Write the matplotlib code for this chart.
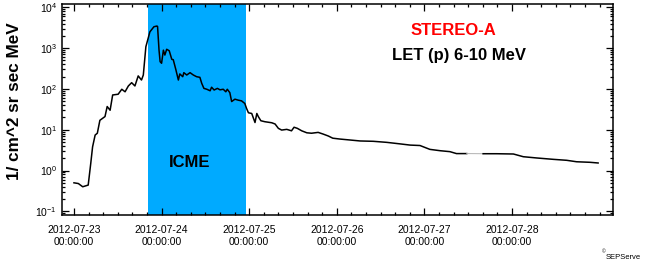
import numpy as np
import matplotlib
matplotlib.use("Agg")
import matplotlib.pyplot as plt
import matplotlib.dates as mdates
from matplotlib.ticker import LogLocator, NullFormatter

plt.rcParams['font.family'] = ['Liberation Sans', 'DejaVu Sans']
plt.rcParams['mathtext.fontset'] = 'custom'
plt.rcParams['mathtext.rm'] = 'Liberation Sans'
plt.rcParams['mathtext.it'] = 'Liberation Sans'

# STEREO-A LET proton flux, 6-10 MeV (hours after 2012-07-23 00:00)
START = np.datetime64('2012-07-23T00:00')
hours = [0, 1.2, 2.4, 3.9, 4.6, 5.1, 5.8, 6.4, 7.1, 8.5, 9.1, 9.9, 10.6, 12.1,
         13.1, 14.0, 14.9, 15.8, 16.7, 17.6, 18.5, 19.0, 19.7, 20.8, 21.9,
         22.7, 22.9, 23.3, 23.6, 24.0, 24.5, 24.9, 25.4, 26.1, 26.8, 27.2,
         27.9, 28.6, 29.0, 29.8, 30.1, 30.9, 31.8, 32.7, 33.6, 34.5, 35.0,
         35.6, 36.4, 37.3, 37.7, 38.4, 39.3, 40.0, 40.9, 41.6, 42.0, 42.7,
         43.2, 44.1, 45.0, 45.9, 46.8, 47.3, 47.8, 48.7, 49.6, 50.1, 50.5,
         51.2, 52.3, 54.2, 55.1, 56.0, 56.9, 58.3, 59.6, 60.3, 61.2, 62.4,
         63.8, 65.1, 66.9, 68.3, 69.7, 70.9, 72.9, 75.6, 78.4, 82.0, 85.7,
         89.3, 92.1, 94.8, 97.5, 100.3, 103.0, 104.8, 107.6, 112.1, 115.8,
         120.4, 123.1, 126.8, 131.3, 135.0, 137.7, 141.4, 143.6]
flux = [0.50, 0.48, 0.40, 0.44, 1.5, 3.8, 7.4, 8.2, 17, 21, 37, 30, 71, 74,
        98, 85, 118, 142, 118, 208, 165, 219, 1080, 2500, 3330,
        3470, 3400, 900, 465, 425, 890, 675, 935, 860, 530, 520,
        300, 165, 233, 199, 250, 219, 250, 219, 199, 192, 137,
        103, 98, 90, 110, 94, 103, 95, 98, 85, 98, 81,
        49, 56, 53, 51, 44, 33, 26, 25, 15, 25, 21,
        16.6, 15.7, 14.8, 13.8, 10.8, 9.8, 10.2, 9.4, 11.5, 10.8, 9.4,
        8.4, 8.2, 8.6, 7.8, 7.0, 6.2, 5.9, 5.6, 5.3, 5.2, 4.9,
        4.5, 4.2, 4.1, 3.3, 3.06, 2.9, 2.6, 2.6, 2.58, 2.58,
        2.54, 2.18, 2.03, 1.88, 1.78, 1.64, 1.59, 1.53]

icme_start = '2012-07-23T20:16'
icme_end = '2012-07-24T23:07'
tick_days = ['2012-07-23', '2012-07-24', '2012-07-25',
             '2012-07-26', '2012-07-27', '2012-07-28']
x_range = ('2012-07-22T20:43', '2012-07-29T03:41')

times = START + (np.array(hours) * 60).astype('timedelta64[m]')
flux = np.array(flux)

fig = plt.figure(figsize=(6.45, 2.71), dpi=100)
ax = fig.add_axes([0.0961, 0.2066, 0.8543, 0.7786])

ax.axvspan(np.datetime64(icme_start), np.datetime64(icme_end),
           color='#00aaff', lw=0, zorder=1)

# data gap drawn faint
gap = int(np.argmax(np.diff(hours) > 4))
ax.plot(times[:gap + 1], flux[:gap + 1], color='black', lw=1.1, zorder=3)
ax.plot(times[gap:gap + 2], flux[gap:gap + 2], color='#b0b0b0', lw=0.7, zorder=3)
ax.plot(times[gap + 1:], flux[gap + 1:], color='black', lw=1.1, zorder=3)

ax.set_yscale('log')
ax.set_ylim(10 ** -1.09, 10 ** 4.08)
ax.set_xlim(np.datetime64(x_range[0]), np.datetime64(x_range[1]))

ax.yaxis.set_minor_locator(LogLocator(base=10, subs=np.arange(2, 10), numticks=20))
ax.yaxis.set_minor_formatter(NullFormatter())
ax.set_yticks([10.0 ** k for k in range(-1, 5)])
ax.set_yticklabels([r'$10^{%d}$' % k for k in range(-1, 5)])

ax.set_xticks([np.datetime64(d + 'T00:00') for d in tick_days])
ax.xaxis.set_major_formatter(mdates.DateFormatter('%Y-%m-%d\n%H:%M:%S'))
ax.xaxis.set_minor_locator(mdates.HourLocator(byhour=range(0, 24, 4)))

ax.tick_params(which='both', direction='in', top=True, right=True,
               labelsize=7.5, width=0.9, colors='black')
ax.tick_params(which='major', length=5)
ax.tick_params(which='minor', length=2.5)
ax.tick_params(axis='x', which='major', pad=7)
for lbl in ax.get_xticklabels():
    lbl.set_linespacing(1.25)
for s in ax.spines.values():
    s.set_linewidth(1.1)

fig.text(0.022, 0.627, '1/ cm^2 sr sec MeV', rotation=90, fontsize=12.3,
         fontweight='bold', ha='center', va='center')

ax.text(0.71, 0.874, 'STEREO-A', color='#ff0000', fontsize=12,
        fontweight='bold', ha='center', va='center', transform=ax.transAxes)
ax.text(0.72, 0.755, 'LET (p) 6-10 MeV', color='black', fontsize=12,
        fontweight='bold', ha='center', va='center', transform=ax.transAxes)
ax.text(0.232, 0.247, 'ICME', color='black', fontsize=12,
        fontweight='bold', ha='center', va='center', transform=ax.transAxes,
        zorder=4)

fig.text(0.933, 0.063, '\u00a9', fontsize=3.5, ha='left', va='bottom')
fig.text(0.939, 0.037, 'SEPServe', fontsize=5.5, ha='left', va='bottom')

fig.savefig('out.png', dpi=100)
